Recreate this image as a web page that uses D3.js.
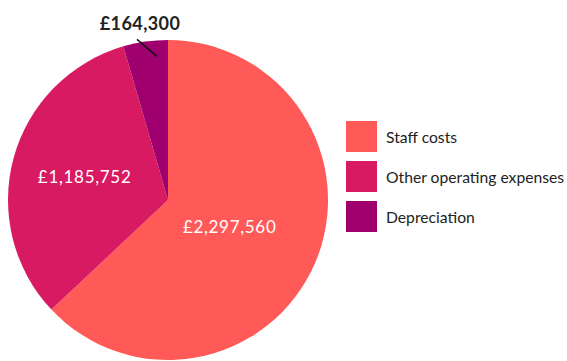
<!DOCTYPE html>
<html>
<head>
<meta charset="utf-8">
<script src="https://cdn.jsdelivr.net/npm/d3@7"></script>
<style>
  html, body { margin: 0; padding: 0; background: #fff; }
  svg { display: block; font-family: Lato, "Open Sans", sans-serif; }
</style>
</head>
<body>
<svg id="chart" width="567" height="361"></svg>
<script>
// Expenditure breakdown
const categories = ["Staff costs", "Other operating expenses", "Depreciation"];
const values = [2297560, 1185752, 164300];
const valueLabels = ["£2,297,560", "£1,185,752", "£164,300"];
const colors = ["#ff5a57", "#d81a62", "#a0006e"];

const W = 567, H = 361;
const cx = 168, cy = 200, R = 160;

const svg = d3.select("#chart");

const pie = d3.pie().sort(null).value(d => d.value);
const arcs = pie(categories.map((c, i) => ({ name: c, value: values[i], label: valueLabels[i], color: colors[i] })));
const arc = d3.arc().innerRadius(0).outerRadius(R);

const g = svg.append("g").attr("transform", `translate(${cx},${cy})`);

g.selectAll("path.slice")
  .data(arcs)
  .join("path")
  .attr("class", "slice")
  .attr("d", arc)
  .attr("fill", d => d.data.color);

// inside labels for the large slices (radius as fraction of R)
const insideRadius = [0.42, 0.54];
arcs.slice(0, 2).forEach((d, i) => {
  const a = d3.arc().innerRadius(0).outerRadius(R * insideRadius[i] * 2);
  const [x, y] = a.centroid(d);
  g.append("text")
    .attr("x", x)
    .attr("y", y)
    .attr("dy", "0.36em")
    .attr("text-anchor", "middle")
    .attr("fill", "#fff")
    .attr("font-size", 17)
    .attr("letter-spacing", 0.7)
    .text(d.data.label);
});

// outside label with leader for the small slice
const small = arcs[2];
const ang = small.startAngle + (small.endAngle - small.startAngle) * 0.73;
const px = Math.sin(ang) * R * 0.9, py = -Math.cos(ang) * R * 0.9;
const lx = px - 20, ly = py - 17;
g.append("line")
  .attr("x1", px).attr("y1", py)
  .attr("x2", lx).attr("y2", ly)
  .attr("stroke", "#111")
  .attr("stroke-width", 1.5);
g.append("text")
  .attr("x", lx + 3)
  .attr("y", ly - 9)
  .attr("text-anchor", "middle")
  .attr("fill", "#222")
  .attr("font-size", 18)
  .attr("font-weight", "bold")
  .attr("letter-spacing", 0.4)
  .text(small.data.label);

// legend
const legend = svg.append("g").attr("transform", "translate(346,121)");
const item = legend.selectAll("g")
  .data(categories)
  .join("g")
  .attr("transform", (d, i) => `translate(0,${i * 40})`);
item.append("rect")
  .attr("width", 31).attr("height", 31)
  .attr("fill", (d, i) => colors[i]);
item.append("text")
  .attr("x", 40)
  .attr("y", 21.5)
  .attr("fill", "#222")
  .attr("font-size", 15.7)
  .text(d => d);
</script>
</body>
</html>
